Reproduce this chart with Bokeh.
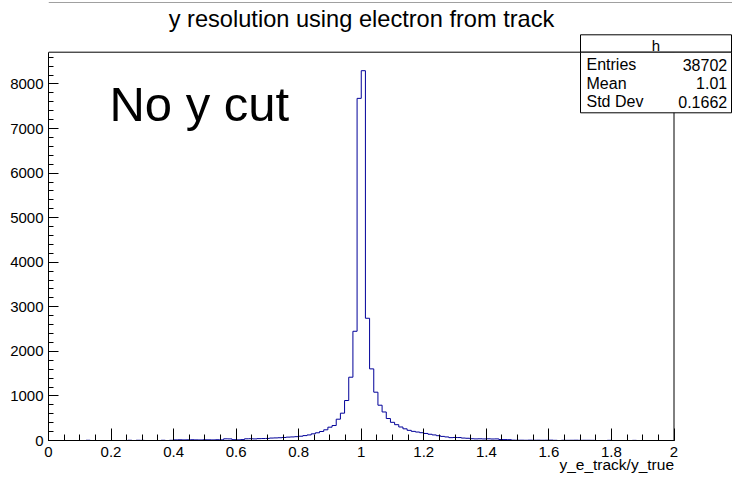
from bokeh.plotting import figure
from bokeh.models import FixedTicker, Label, BoxAnnotation, Range1d, Title
from bokeh.embed import file_html
from bokeh.resources import INLINE

# ---------------- data ----------------
title_text = "y resolution using electron from track"
x_title = "y_e_track/y_true"
hist_name = "h"
stat_names = ["Entries", "Mean", "Std Dev"]
stat_values = ["38702", "1.01", "0.1662"]
note_text = "No y cut"

x_lo, x_hi, n_bins = 0.0, 2.0, 150
counts = [
    0, 0, 0, 0, 0, 0, 0, 0, 0, 5,
    0, 0, 0, 0, 0, 0, 0, 0, 0, 5,
    0, 5, 3, 0, 0, 0, 0, 5, 0, 5,
    14, 16, 13, 15, 17, 14, 12, 16, 15, 13,
    17, 15, 38, 36, 18, 15, 20, 38, 40, 36,
    42, 44, 46, 55, 58, 62, 68, 76, 80, 86,
    96, 110, 125, 150, 173, 202, 240, 299, 336, 478,
    613, 897, 1420, 2451, 7677, 8298, 2743, 1607, 1084, 792,
    640, 493, 408, 355, 303, 262, 228, 205, 190, 175,
    158, 140, 125, 108, 92, 80, 64, 68, 66, 55,
    50, 40, 36, 38, 35, 38, 34, 36, 22, 20,
    18, 8, 6, 7, 5, 8, 6, 7, 5, 6,
    8, 4, 0, 5, 4, 5, 6, 4, 5, 5,
    4, 0, 0, 0, 4, 0, 0, 0, 0, 0,
    3, 0, 0, 0, 0, 0, 0, 0, 0, 0,
]

x_ticks = [0, 0.2, 0.4, 0.6, 0.8, 1, 1.2, 1.4, 1.6, 1.8, 2]
x_tick_labels = ["0", "0.2", "0.4", "0.6", "0.8", "1", "1.2", "1.4", "1.6", "1.8", "2"]
x_minor_step = 0.05
y_ticks = [0, 1000, 2000, 3000, 4000, 5000, 6000, 7000, 8000]
y_minor_step = 200

# ---------------- derived ----------------
width_bin = (x_hi - x_lo) / n_bins
edges = [x_lo + i * width_bin for i in range(n_bins + 1)]
step_y = counts + [counts[-1]]
y_max = 1.05 * max(counts)
x_minor = [round(i * x_minor_step, 4) for i in range(int(round((x_hi - x_lo) / x_minor_step)) + 1)]
y_minor = [i * y_minor_step for i in range(int(y_max // y_minor_step) + 1)]

# ---------------- layout (pixels) ----------------
W, H = 732, 477
LEFT, BOTTOM = 48, 37
FW, FH = W - LEFT, H - BOTTOM          # bokeh frame covers everything right/up of the axes
HIST_W_PX, HIST_H_PX = 625.5, 388.3    # size of the histogram box inside it
FONT = "Liberation Sans"
BL = 0.36                              # baseline correction (em)

p = figure(width=W, height=H,
           x_range=Range1d(x_lo, x_lo + (x_hi - x_lo) * FW / HIST_W_PX),
           y_range=Range1d(0, y_max * FH / HIST_H_PX),
           output_backend="svg", toolbar_location=None,
           min_border_left=LEFT, min_border_right=0,
           min_border_top=0, min_border_bottom=BOTTOM)
p.grid.visible = False
p.background_fill_color = "white"
p.border_fill_color = "white"
p.outline_line_color = None

# thin gray line at the very top of the canvas
p.add_layout(BoxAnnotation(left=0, right=FW, top=FH - 1.5, bottom=FH - 2.5,
                           left_units="screen", right_units="screen",
                           top_units="screen", bottom_units="screen",
                           fill_color="#a0a0a0", fill_alpha=1, line_color=None))

p.step(edges, step_y, mode="after", line_color="#000099", line_width=1)

# histogram frame
p.add_layout(BoxAnnotation(left=x_lo, right=x_hi, bottom=0, top=y_max,
                           fill_alpha=0, line_color="black", line_width=1, line_alpha=1))

# x axis
xa = p.xaxis[0]
xa.bounds = (x_lo, x_hi)
xa.ticker = FixedTicker(ticks=x_ticks, minor_ticks=x_minor)
xa.major_label_overrides = dict(zip(x_ticks, x_tick_labels))
xa.major_tick_in = 12
xa.major_tick_out = 0
xa.minor_tick_in = 6
xa.minor_tick_out = 0
xa.major_tick_line_color = "black"
xa.minor_tick_line_color = "black"
xa.axis_line_color = "black"
xa.major_label_standoff = 6
xa.major_label_text_font = FONT
xa.major_label_text_font_size = "15px"
xa.major_label_text_color = "black"

# y axis
ya = p.yaxis[0]
ya.bounds = (0, y_max)
ya.ticker = FixedTicker(ticks=y_ticks, minor_ticks=y_minor)
ya.major_tick_in = 10
ya.major_tick_out = 0
ya.minor_tick_in = 5
ya.minor_tick_out = 0
ya.major_tick_line_color = "black"
ya.minor_tick_line_color = "black"
ya.axis_line_color = "black"
ya.major_label_standoff = 5
ya.major_label_text_font = FONT
ya.major_label_text_font_size = "15px"
ya.major_label_text_color = "black"

# x axis title (below, right aligned to the histogram box)
p.add_layout(Title(text=x_title, align="right", offset=FW - HIST_W_PX,
                   vertical_align="top", standoff=-7,
                   text_font=FONT, text_font_size="15.5px", text_font_style="normal",
                   text_color="black"), "below")


def lab(x, y, text, size, align="left", units="screen"):
    return Label(x=x, y=y, x_units=units, y_units=units, text=text,
                 text_align=align, text_baseline="alphabetic",
                 text_font=FONT, text_font_size=f"{size}px", text_color="black")


# title (baseline at y=26 from top)
p.add_layout(lab(361 - LEFT, FH - 26.5 + BL * 23.6, title_text, 23.6, "center"))

# note inside the histogram
p.add_layout(lab(0.195, 7560, note_text, 49, "left", units="data"))

# stats box
bx_l, bx_r = 580 - LEFT, 731 - LEFT
bx_top, bx_sep, bx_bot = FH - 34.3, FH - 51.7, FH - 112.3
p.add_layout(BoxAnnotation(left=bx_l, right=bx_r, top=bx_top, bottom=bx_sep - 0.0,
                           left_units="screen", right_units="screen",
                           top_units="screen", bottom_units="screen",
                           fill_color="white", fill_alpha=1,
                           line_color="black", line_width=1, line_alpha=1))
p.add_layout(BoxAnnotation(left=bx_l, right=bx_r, top=bx_sep, bottom=bx_bot,
                           left_units="screen", right_units="screen",
                           top_units="screen", bottom_units="screen",
                           fill_color="white", fill_alpha=1,
                           line_color="black", line_width=1, line_alpha=1))
p.add_layout(lab((bx_l + bx_r) / 2, FH - 50 + BL * 15, hist_name, 15, "center"))
row_base = [70, 88.5, 107]
for name, val, yb in zip(stat_names, stat_values, row_base):
    p.add_layout(lab(bx_l + 6, FH - yb + BL * 16, name, 16, "left"))
    p.add_layout(lab(bx_r - 4.3, FH - yb + BL * 16, val, 16, "right"))

open("out.html", "w").write(file_html(p, INLINE))
